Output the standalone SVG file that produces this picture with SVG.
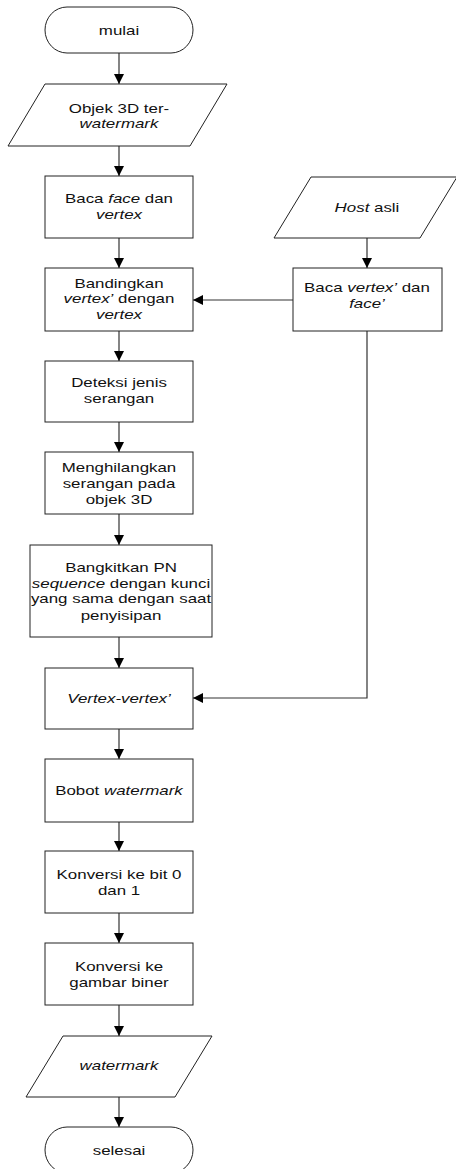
<svg xmlns="http://www.w3.org/2000/svg" width="456" height="1169" viewBox="0 0 456 1169">
<style>
.s{fill:#fff;stroke:#222;stroke-width:1}
.c{fill:none;stroke:#333;stroke-width:1.2}
text{font-family:"Liberation Sans",Arial,sans-serif;font-size:13px;fill:#111;text-anchor:middle}
.i{font-style:italic}
</style>
<defs>
<marker id="a" markerUnits="userSpaceOnUse" markerWidth="10" markerHeight="10" viewBox="0 0 10 10" refX="10" refY="5" orient="auto">
<path d="M0,0 L10,5 L0,10 Z" fill="#000"/>
</marker>
</defs>
<rect width="456" height="1169" fill="#fff"/>
<g id="connectors" class="c" marker-end="url(#a)">
<line x1="119" y1="53" x2="119" y2="84"/>
<line x1="119" y1="146" x2="119" y2="176"/>
<line x1="119" y1="238" x2="119" y2="268"/>
<line x1="119" y1="331" x2="119" y2="361"/>
<line x1="119" y1="422" x2="119" y2="452"/>
<line x1="119" y1="514" x2="119" y2="545"/>
<line x1="119" y1="637" x2="119" y2="668"/>
<line x1="119" y1="729" x2="119" y2="759"/>
<line x1="119" y1="822" x2="119" y2="851"/>
<line x1="119" y1="913" x2="119" y2="943"/>
<line x1="119" y1="1005" x2="119" y2="1036"/>
<line x1="119" y1="1097" x2="119" y2="1127"/>
<line x1="367" y1="238" x2="367" y2="268"/>
<line x1="293" y1="300" x2="193" y2="300"/>
<polyline points="367,331 367,698 193,698"/>
</g>
<g id="n-mulai"><rect class="s" x="45" y="7" width="148" height="46" rx="22" ry="23"/><text transform="translate(119,35) scale(1.3,1)">mulai</text></g>
<g id="n-objek"><polygon class="s" points="45,84 227,84 190,146 8,146"/><text transform="translate(119,113) scale(1.3,1)">Objek 3D ter-</text><text class="i" transform="translate(119,128) scale(1.3,1)">watermark</text></g>
<g id="n-baca1"><rect class="s" x="45" y="176" width="148" height="62"/><text transform="translate(119,203) scale(1.3,1)">Baca <tspan class="i">face</tspan> dan</text><text class="i" transform="translate(119,219) scale(1.3,1)">vertex</text></g>
<g id="n-banding"><rect class="s" x="45" y="268" width="148" height="63"/><text transform="translate(119,288) scale(1.3,1)">Bandingkan</text><text transform="translate(119,303) scale(1.3,1)"><tspan class="i">vertex’</tspan> dengan</text><text class="i" transform="translate(119,319) scale(1.3,1)">vertex</text></g>
<g id="n-host"><polygon class="s" points="311,177 457,177 420,238 274,238"/><text transform="translate(367,212) scale(1.3,1)"><tspan class="i">Host</tspan> asli</text></g>
<g id="n-baca2"><rect class="s" x="293" y="268" width="149" height="63"/><text transform="translate(367,292) scale(1.3,1)">Baca <tspan class="i">vertex’</tspan> dan</text><text class="i" transform="translate(367,308) scale(1.3,1)">face’</text></g>
<g id="n-deteksi"><rect class="s" x="45" y="361" width="148" height="61"/><text transform="translate(119,387) scale(1.3,1)">Deteksi jenis</text><text transform="translate(119,403) scale(1.3,1)">serangan</text></g>
<g id="n-hilang"><rect class="s" x="45" y="452" width="148" height="62"/><text transform="translate(119,472) scale(1.3,1)">Menghilangkan</text><text transform="translate(119,488) scale(1.3,1)">serangan pada</text><text transform="translate(119,504) scale(1.3,1)">objek 3D</text></g>
<g id="n-pn"><rect class="s" x="30" y="545" width="182" height="92"/><text transform="translate(121,572) scale(1.3,1)">Bangkitkan PN</text><text transform="translate(121,588) scale(1.3,1)"><tspan class="i">sequence</tspan> dengan kunci</text><text transform="translate(121,603) scale(1.3,1)">yang sama dengan saat</text><text transform="translate(121,620) scale(1.3,1)">penyisipan</text></g>
<g id="n-vv"><rect class="s" x="45" y="668" width="148" height="61"/><text class="i" transform="translate(119,703) scale(1.3,1)">Vertex-vertex’</text></g>
<g id="n-bobot"><rect class="s" x="45" y="759" width="148" height="63"/><text transform="translate(119,795) scale(1.3,1)">Bobot <tspan class="i">watermark</tspan></text></g>
<g id="n-bit"><rect class="s" x="45" y="851" width="148" height="62"/><text transform="translate(119,879) scale(1.3,1)">Konversi ke bit 0</text><text transform="translate(119,895) scale(1.3,1)">dan 1</text></g>
<g id="n-gambar"><rect class="s" x="45" y="943" width="148" height="62"/><text transform="translate(119,971) scale(1.3,1)">Konversi ke</text><text transform="translate(119,987) scale(1.3,1)">gambar biner</text></g>
<g id="n-wm"><polygon class="s" points="63,1036 212,1036 175,1097 26,1097"/><text class="i" transform="translate(119,1070) scale(1.3,1)">watermark</text></g>
<g id="n-selesai"><rect class="s" x="45" y="1127" width="148" height="46" rx="22" ry="23"/><text transform="translate(119,1155) scale(1.3,1)">selesai</text></g>
</svg>
